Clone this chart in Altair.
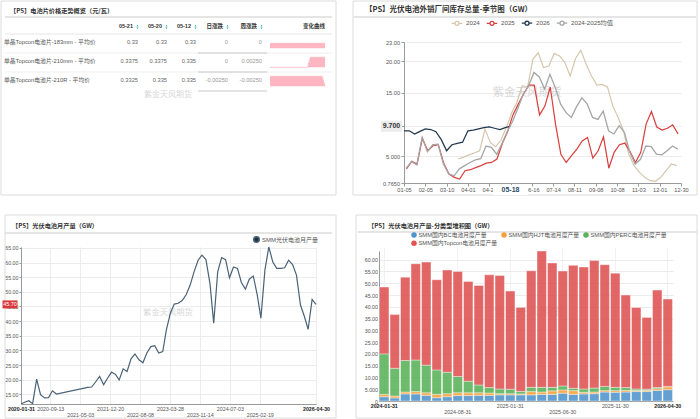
import altair as alt
import pandas as pd

FONT = "Liberation Sans, Noto Sans CJK SC, sans-serif"
CJK = "Noto Sans CJK SC, Liberation Sans, sans-serif"
WATERMARK = "紫金天风期货"
ONE = pd.DataFrame({"k": [0]})
DARK = "#333333"
MID = "#555555"
AXIS = "#9a9a9a"
GRID = "#ececec"

# ---------------------------------------------------------------- data
# cell price overview (元/瓦)
row_names = [
    "单晶Topcon电池片-183mm - 平均价",
    "单晶Topcon电池片-210mm - 平均价",
    "单晶Topcon电池片-210R - 平均价",
]
price_05_21 = [0.33, 0.3375, 0.3325]
price_05_20 = [0.33, 0.3375, 0.335]
price_05_12 = [0.33, 0.335, 0.335]
day_change = [0, 0, -0.0025]
week_change = [0, 0.0025, -0.0025]
spark_183 = [0.33, 0.33, 0.33, 0.33, 0.33, 0.33, 0.33, 0.33, 0.33, 0.33,
             0.33, 0.33, 0.33, 0.33, 0.33, 0.33, 0.33, 0.33, 0.33, 0.33]
spark_210 = [0.335, 0.335, 0.335, 0.335, 0.335, 0.335, 0.335, 0.335, 0.335, 0.335,
             0.335, 0.335, 0.335, 0.335, 0.3375, 0.3375, 0.3375, 0.3375, 0.3375, 0.3375]
spark_210r = [0.335, 0.335, 0.335, 0.335, 0.335, 0.335, 0.335, 0.335, 0.335, 0.335,
              0.335, 0.335, 0.335, 0.335, 0.335, 0.335, 0.335, 0.335, 0.335, 0.3325]

# cell inventory, seasonal (GW), one value per week of the year
week_labels = ["01-05", "02-05", "03-10", "04-01", "04-20", "05-18", "06-16",
               "07-14", "08-11", "09-08", "10-08", "11-03", "12-01", "12-30"]
season_names = ["2024", "2025", "2026", "2024-2025均值"]
# each year's weekly observations fall on a slightly different day of the week
season_day_shift = {"2024": 0.2, "2025": 0.45, "2026": 0.0, "2024-2025均值": 0.4}
inv_2024 = [None, None, None, None, None, None, None, None, None, None,
            4.54, 4.85, 5.2, 5.5, 5.85, 9.26, 7.16, 6.5, 7.5, 9.5,
            11.8, 13.5, 16.1, 15.9, 20.3, 21.3, 18.96, 19.2, 21.2, 20.8,
            19.75, 17.65, 20.4, 21.7, 19.5, 17.65, 16.2, 16.3, 15.9, 12.9,
            11.1, 9.0, 5.3, 3.5, 2.44, 1.66, 1.13, 1.03, 1.66, 2.7,
            3.76, 3.5]
inv_2025 = [2.97, 4.17, 3.76, 7.8, 5.85, 6.64, 6.8, 3.86, 2.18, 1.66,
            1.4, 2.7, 2.86, 3.2, 3.5, 3.9, 4.0, 4.54, 7.0, 8.9,
            11.5, 13.2, 14.8, 16.2, 16.2, 11.5, 12.9, 15.9, 10.0, 5.3,
            4.0, 5.07, 6.1, 7.4, 7.95, 4.7, 5.85, 8.05, 3.1, 5.6,
            6.8, 7.06, 5.7, 4.0, 5.6, 10.05, 12.04, 9.6, 9.1, 9.4,
            9.94, 8.5]
inv_2026 = [9.0, 9.0, 8.5, 8.9, 9.3, 9.2, 8.85, 7.6, 5.85, 6.8,
            7.0, 7.2, 9.0, 9.1, 9.3, 9.5, 9.6, 9.4, 9.2, 9.5,
            9.7]
inv_mean = [3.07, 4.17, 3.6, 7.95, 5.7, 6.8, 6.9, 3.75, 2.2, 1.9,
            3.0, 3.5, 4.0, 4.4, 4.6, 6.6, 6.4, 5.3, 7.0, 8.9,
            10.5, 12.6, 14.8, 16.1, 18.2, 17.5, 15.6, 17.9, 15.8, 13.2,
            11.9, 11.1, 12.8, 14.2, 13.2, 11.1, 10.8, 12.1, 9.0, 8.5,
            9.8, 8.7, 5.6, 3.75, 4.5, 6.6, 6.5, 5.3, 5.2, 5.85,
            6.6, 6.1]

# monthly cell output (GW), 2020-01 .. 2026-04
output_name = "SMM光伏电池月产量"
output_monthly = [
    11.7, 12.3, 12.8, 11.8, 20.2, 14.9, 13.8, 13.9, 16.2, 15.1, None, None,
    None, None, None, None, None, 17.4, 17.5, 19.3, 21.1, 18.3, 20.5, 22.6,
    21.8, 19.9, 23.7, 22.8, 27.1, 28.8, 26.8, 25.8, 29.1, 31.3, 31.6, 29.1,
    29.6, 37.0, 42.7, 45.8, 46.1, 47.0, 49.0, 52.3, 56.8, 60.8, 62.5, 61.0,
    52.9, 39.3, 56.8, 61.7, 61.0, 54.8, 58.5, 58.0, 53.2, 50.9, 54.3, 55.4,
    48.9, 41.0, 57.4, 65.3, 60.2, 58.0, 58.0, 58.2, 60.8, 59.3, 55.7, 45.5,
    41.5, 37.2, 47.4, 45.7,
]
output_ticks = ["2020-01-31", "2020-09-13", "2021-05-03", "2021-12-20", "2022-08-08",
                "2023-03-28", "2023-11-14", "2024-07-03", "2025-02-19", "2026-04-30"]

# monthly output by cell type (GW), 2024-01 .. 2026-04
type_names = ["SMM国内BC电池月度产量", "SMM国内HJT电池月度产量",
              "SMM国内PERC电池月度产量", "SMM国内Topcon电池月度产量"]
type_colors = ["#4f93cc", "#f7a13c", "#59b35a", "#e05253"]
out_bc = [1.8, 1.3, 3.0, 3.0, 2.4, 1.4, 1.8, 2.3, 2.3, 2.4, 2.4, 2.6, 2.6, 2.6,
          2.6, 2.8, 2.8, 3.3, 2.8, 3.0, 3.1, 3.8, 3.7, 3.8, 4.0, 4.0, 4.5, 4.8]
out_hjt = [1.0, 0.8, 0.8, 1.0, 1.1, 1.4, 1.3, 1.2, 1.2, 1.1, 1.0, 0.5, 0.5, 0.4,
           1.4, 1.0, 1.5, 1.4, 1.6, 0.7, 0.7, 0.6, 0.7, 0.7, 0.5, 0.5, 0.7, 1.2]
out_perc = [17.2, 11.8, 13.4, 13.4, 11.7, 10.4, 9.1, 6.9, 4.9, 3.3, 2.3, 2.0, 1.9, 1.1,
            1.8, 2.0, 1.5, 1.7, 1.0, 1.4, 1.7, 1.8, 1.4, 1.2, 0.6, 0.5, 0.5, 0.2]
out_topcon = [28.4, 22.8, 35.4, 40.9, 43.8, 38.3, 43.4, 44.6, 42.4, 42.3, 47.9, 48.2, 41.7, 35.6,
              49.5, 57.9, 52.8, 48.8, 52.2, 51.8, 54.2, 51.7, 48.5, 39.3, 34.6, 30.5, 41.4, 37.1]


# ---------------------------------------------------------------- helpers
def rect(ox, oy, x0, y0, x1, y1, **mark):
    return alt.Chart(ONE).mark_rect(**mark).encode(
        x=alt.value(x0 - ox), x2=alt.value(x1 - ox),
        y=alt.value(y0 - oy), y2=alt.value(y1 - oy))


def hrule(ox, oy, x0, x1, y, color, width=1.0):
    return alt.Chart(ONE).mark_rule(color=color, strokeWidth=width).encode(
        x=alt.value(x0 - ox), x2=alt.value(x1 - ox), y=alt.value(y - oy))


def note(ox, oy, x, y, text, **mark):
    mark.setdefault("font", FONT)
    mark.setdefault("baseline", "middle")
    return alt.Chart(ONE).mark_text(text=text, **mark).encode(
        x=alt.value(x - ox), y=alt.value(y - oy))


def chrome(ox, oy, cell, frame, title, title_at, title_size, rule, mark_at, mark_size):
    """Invisible layout cell, panel border, title, title rule and watermark."""
    return [
        rect(ox, oy, *cell, opacity=0, strokeWidth=0),
        rect(ox, oy, *frame, fillOpacity=0, stroke="#dcdcdc", strokeWidth=1),
        note(ox, oy, title_at[0], title_at[1], title, align="left", fontSize=title_size,
             fontWeight="bold", font=CJK, color=DARK),
        hrule(ox, oy, rule[0], rule[1], rule[2], "#dddddd", 1.5),
        note(ox, oy, mark_at[0], mark_at[1], WATERMARK, align="center", fontSize=mark_size,
             font=CJK, color="#c4c4c4", opacity=0.65),
    ]


def box_shape(w, h):
    """Symbol path for a w x h rectangle; use with size = w * w."""
    return f"M-1,{-h / w:.4f}H1V{h / w:.4f}H-1Z"


def bold_if(test):
    return {"condition": {"test": test, "value": "bold"}, "value": "normal"}


def color_if(test, on, off):
    return {"condition": {"test": test, "value": on}, "value": off}


# ---------------------------------------------------------------- panel 1: price table
OX1, OY1 = 21, 42
col_right = {"05-21": 138, "05-20": 167, "05-12": 196, "日涨跌": 228, "周涨跌": 262}
row_y = alt.Y("name:N", axis=None,
              scale=alt.Scale(domain=row_names, range=[42.3 - OY1, 80.3 - OY1], padding=0))

p1 = chrome(OX1, OY1, (0, 0, 350, 207), (1, 1, 336, 195),
            "【PS】电池片价格走势概览（元/瓦）", (10, 11), 6.2, (5, 332, 17), (168, 95), 8)

# header row and row separators
p1.append(hrule(OX1, OY1, 5, 332, 34, "#e6e6e6", 1))
for yy in (53, 72):
    p1.append(hrule(OX1, OY1, 5, 332, yy, "#efefef", 1))
for yy in (53, 72, 91):
    p1.append(hrule(OX1, OY1, 198, 267, yy, "#c9c9c9", 1))

columns = [("05-21", price_05_21, False), ("05-20", price_05_20, False),
           ("05-12", price_05_12, False), ("日涨跌", day_change, True),
           ("周涨跌", week_change, True)]
for col, vals, is_change in columns:
    xr = col_right[col]
    p1.append(note(OX1, OY1, xr - 5, 26, col, align="right", fontSize=5.5,
                   fontWeight="bold", color=DARK))
    p1.append(alt.Chart(ONE).mark_point(shape="triangle-up", filled=True, size=4,
                                        color="#21b0a0", opacity=1).encode(
        x=alt.value(xr - 0.5 - OX1), y=alt.value(25.7 - OY1)))
    p1.append(alt.Chart(ONE).mark_point(shape="triangle-down", filled=True, size=4,
                                        color="#21b0a0", opacity=1).encode(
        x=alt.value(xr - 0.5 - OX1), y=alt.value(28.3 - OY1)))
    if is_change:
        txt = ["0" if v == 0 else f"{v:.5f}" for v in vals]
    else:
        txt = [f"{v:g}" for v in vals]
    cdf = pd.DataFrame({"name": row_names, "txt": txt})
    p1.append(alt.Chart(cdf).mark_text(align="right", baseline="middle", fontSize=5.7, font=FONT,
                                       color="#999999" if is_change else "#666666").encode(
        x=alt.value(xr - OX1), y=row_y, text="txt:N"))
p1.append(note(OX1, OY1, 325, 26, "变化曲线", align="right", fontSize=5.5,
               fontWeight="bold", color=DARK))

names_df = pd.DataFrame({"name": row_names})
p1.append(alt.Chart(names_df).mark_text(align="left", baseline="middle", fontSize=5.8,
                                        font=FONT, color=MID).encode(
    x=alt.value(4 - OX1), y=row_y, text="name:N"))

# sparklines: each row normalised to its own range, drawn over a 10px band
spark_rows = []
for r, (name, series) in enumerate(zip(row_names, [spark_183, spark_210, spark_210r])):
    lo, hi = min(series), max(series)
    for t, v in enumerate(series):
        frac = 0.5 if hi == lo else (v - lo) / (hi - lo)
        spark_rows.append({"name": name, "t": t, "top": r - frac * 10 / 19, "base": r})
spark_df = pd.DataFrame(spark_rows)
spark_x = alt.X("t:Q", axis=None,
                scale=alt.Scale(domain=[0, len(spark_183) - 1], range=[270 - OX1, 325 - OX1]))
spark_y = alt.Y("top:Q", axis=None,
                scale=alt.Scale(domain=[0, 2], range=[48.3 - OY1, 86.3 - OY1], nice=False, zero=False))
p1.append(alt.Chart(spark_df).mark_area(color="#ffb6c1", opacity=1).encode(
    x=spark_x, y=spark_y, y2="base:Q", detail="name:N"))
p1.append(alt.Chart(spark_df).mark_line(color="#ffb6c1", strokeWidth=0.8).encode(
    x=spark_x, y=spark_y, detail="name:N"))

panel1 = alt.layer(*p1).resolve_scale(x="independent", y="independent").properties(
    width=300, height=120)

# ---------------------------------------------------------------- panel 2: seasonal inventory
OX2, OY2, W2, H2 = 404, 42, 277, 141
season_rows = []
for name, vals in zip(season_names, [inv_2024, inv_2025, inv_2026, inv_mean]):
    for w, v in enumerate(vals):
        if v is not None:
            season_rows.append({"week": w + season_day_shift[name], "value": v, "series": name})
season_df = pd.DataFrame(season_rows)
cur_week = len(inv_2026) - 1
cur_value = inv_2026[-1]
tick_weeks = [4 * i for i in range(len(week_labels))]
label_arr = "[" + ",".join(
    "''" if w == cur_week else f"'{lab}'" for w, lab in zip(tick_weeks, week_labels)) + "]"
cur_label = week_labels[tick_weeks.index(cur_week)]

legend_path = ("M-1,0H-0.38M0.38,0H1M0.38,0A0.38,0.38,0,1,1,-0.38,0"
               "A0.38,0.38,0,1,1,0.38,0Z")
y_lo, y_hi = 0.765, 23
week_scale = alt.Scale(domain=[0, tick_weeks[-1]], nice=False, zero=False)
inv_scale = alt.Scale(domain=[y_lo, y_hi], nice=False, zero=False)

p2 = chrome(OX2, OY2, (350, 0, 700, 207), (353, 1, 697, 195),
            "【PS】光伏电池外销厂间库存总量-季节图（GW）", (365, 10), 7.5, (354, 696, 17), (527, 93), 11.5)
p2.append(alt.Chart(season_df).mark_line().encode(
    x=alt.X("week:Q", title=None, scale=week_scale,
            axis=alt.Axis(values=tick_weeks, labelExpr=f"{label_arr}[round(datum.value / 4)]",
                          grid=False, domainColor=AXIS, tickColor=AXIS, tickSize=3,
                          labelFontSize=5.6, labelColor=MID, labelPadding=1.5,
                          labelFlush=False, labelOverlap=False)),
    y=alt.Y("value:Q", title=None, scale=inv_scale,
            axis=alt.Axis(values=[y_lo, 5, cur_value, 15, 20, y_hi],
                          labelExpr=f"datum.value == {cur_value} ? '' : format(datum.value, '.4r')",
                          gridColor=GRID, domainColor=AXIS, tickColor=AXIS, tickSize=3,
                          labelFontSize=5.6, labelColor=MID, labelPadding=1.5,
                          labelOverlap=False)),
    color=alt.Color("series:N",
                    scale=alt.Scale(domain=season_names,
                                    range=["#d6c6ad", "#d9403f", "#22394d", "#a6a6a6"]),
                    legend=alt.Legend(title=None, orient="none", legendX=47, legendY=-25,
                                      direction="horizontal", symbolType=legend_path,
                                      symbolSize=110, symbolStrokeWidth=1,
                                      symbolFillColor="#ffffff", labelFontSize=6.2,
                                      labelColor=MID, labelOffset=3, columnPadding=4,
                                      padding=0)),
    strokeWidth=alt.StrokeWidth("series:N", legend=None,
                                scale=alt.Scale(domain=season_names, range=[1.2, 1.3, 2.4, 0.9])),
))
# latest value tag on the y axis and current week tag on the x axis
cur_y = alt.Y(datum=cur_value, scale=inv_scale, axis=None)
cur_x = alt.X(datum=cur_week, scale=week_scale, axis=None)
p2.append(alt.Chart(ONE).mark_point(shape=box_shape(21, 11), size=21 * 21, filled=True,
                                    color="#ececec", opacity=1).encode(
    x=alt.value(391.5 - OX2), y=cur_y))
p2.append(alt.Chart(ONE).mark_text(text=f"{cur_value:.3f}", fontWeight="bold", fontSize=7,
                                   font=FONT, color=DARK).encode(
    x=alt.value(391.5 - OX2), y=cur_y))
p2.append(alt.Chart(ONE).mark_point(shape=box_shape(35, 10), size=35 * 35, filled=True,
                                    color="#ffffff", opacity=1).encode(
    x=cur_x, y=alt.value(H2 + 7)))
p2.append(alt.Chart(ONE).mark_text(text=cur_label, fontWeight="bold", fontSize=7,
                                   font=FONT, color="#2b4a66").encode(
    x=cur_x, y=alt.value(H2 + 7)))
panel2 = alt.layer(*p2).resolve_scale(x="independent", y="independent").properties(
    width=W2, height=H2)

# ---------------------------------------------------------------- panel 3: monthly output
OX3, OY3, W3, H3 = 21, 247, 295, 157
out_dates = pd.date_range("2020-01-31", periods=len(output_monthly), freq=pd.offsets.MonthEnd())
out_df = pd.DataFrame({"date": out_dates, "value": output_monthly, "series": output_name}).dropna()
out_lo, out_hi = out_df["value"].min(), out_df["value"].max()
out_last = output_monthly[-1]
out_scale = alt.Scale(domain=[out_lo, out_hi], nice=False, zero=False)


def dt(s):
    y, m, d = (int(p) for p in s.split("-"))
    return alt.DateTime(year=y, month=m, date=d)


fmt_date = "timeFormat(datum.value, '%Y-%m-%d')"
lower_dates = "[" + ",".join(f"'{d}'" for d in output_ticks[2:-1:2]) + "]"
edge_test = f"{fmt_date} == '{output_ticks[0]}' || {fmt_date} == '{output_ticks[-1]}'"

p3 = chrome(OX3, OY3, (0, 207, 350, 419), (5, 215, 336, 418),
            "【PS】光伏电池月产量（GW）", (12, 226), 6.2, (5, 332, 233), (168, 313), 8.3)
p3.append(alt.Chart(out_df).mark_line(strokeWidth=1.2).encode(
    x=alt.X("date:T", title=None,
            scale=alt.Scale(domain=[dt(output_ticks[0]), dt(output_ticks[-1])]),
            axis=alt.Axis(values=[dt(s) for s in output_ticks],
                          labelExpr=f"indexof({lower_dates}, {fmt_date}) >= 0 ? ['', {fmt_date}] : {fmt_date}",
                          labelFontWeight=bold_if(edge_test),
                          labelColor=color_if(edge_test, "#222222", MID),
                          gridColor=GRID, domainColor=AXIS, ticks=False,
                          labelFontSize=5.3, labelPadding=2.5, labelLineHeight=6,
                          labelFlush=False, labelOverlap=False)),
    y=alt.Y("value:Q", title=None, scale=out_scale,
            axis=alt.Axis(values=list(range(15, 70, 5)), format=".4r",
                          gridColor=GRID, domainColor=AXIS, tickColor=AXIS, tickSize=2,
                          labelFontSize=5.3, labelColor=MID, labelPadding=1,
                          labelOverlap=False)),
    color=alt.Color("series:N", scale=alt.Scale(domain=[output_name], range=["#4a6276"]),
                    legend=alt.Legend(title=None, orient="none", legendX=232, legendY=-11,
                                      symbolType="circle", symbolSize=30,
                                      symbolFillColor="#1f3346", symbolStrokeColor="#1f3346",
                                      labelFontSize=6, labelColor=MID, labelOffset=2,
                                      padding=0)),
))
last_y = alt.Y(datum=out_last, scale=out_scale, axis=None)
p3.append(alt.Chart(ONE).mark_point(shape=box_shape(15, 8), size=15 * 15, filled=True,
                                    color="#d8383a", opacity=1).encode(
    x=alt.value(10 - OX3), y=last_y))
p3.append(alt.Chart(ONE).mark_text(text=f"{out_last:.2f}", fontSize=5.5, font=FONT,
                                   color="#ffffff").encode(
    x=alt.value(10 - OX3), y=last_y))
panel3 = alt.layer(*p3).resolve_scale(x="independent", y="independent").properties(
    width=W3, height=H3)

# ---------------------------------------------------------------- panel 4: output by type
OX4, OY4, W4, H4 = 379, 247, 294, 154
br_months = [d.strftime("%Y-%m-%d") for d in
             pd.date_range("2024-01-31", periods=len(out_bc), freq=pd.offsets.MonthEnd())]
type_rows = []
for k, (name, vals) in enumerate(zip(type_names, [out_bc, out_hjt, out_perc, out_topcon])):
    for m, v in zip(br_months, vals):
        type_rows.append({"month": m, "type": name, "value": v, "k": k})
type_df = pd.DataFrame(type_rows)
br_max = type_df.groupby("month")["value"].sum().max()
br_ticks = [br_months[i] for i in (0, 7, 12, 17, 22, 27)]
br_lower = "[" + ",".join(f"'{m}'" for m in (br_ticks[1], br_ticks[3])) + "]"
br_edge = f"datum.value == '{br_ticks[0]}' || datum.value == '{br_ticks[-1]}'"

p4 = chrome(OX4, OY4, (350, 207, 700, 419), (356, 215, 697, 418),
            "【PS】光伏电池月产量-分类型堆积图（GW）", (368, 226), 6.2, (358, 697, 232), (528, 313), 11.5)
p4.append(alt.Chart(type_df).mark_bar(opacity=0.88, stroke="#ffffff", strokeWidth=0.4).encode(
    x=alt.X("month:N", title=None,
            scale=alt.Scale(domain=br_months, paddingInner=0.1, paddingOuter=0.05),
            axis=alt.Axis(values=br_ticks,
                          labelExpr=f"indexof({br_lower}, datum.value) >= 0 ? ['', datum.value] : datum.value",
                          labelFontWeight=bold_if(br_edge),
                          labelColor=color_if(br_edge, "#222222", MID),
                          labelAngle=0, gridColor="#f1f1f1", grid=True, domainColor=AXIS,
                          ticks=False, labelFontSize=5.3, labelPadding=2, labelLineHeight=6,
                          labelOverlap=False)),
    y=alt.Y("value:Q", title=None, stack="zero",
            scale=alt.Scale(domain=[0, br_max], range=[H4, 4], nice=False),
            axis=alt.Axis(values=list(range(0, 65, 5)), format=".4r",
                          gridColor=GRID, domainColor=AXIS, ticks=False,
                          labelFontSize=5.3, labelColor=MID, labelPadding=1.5,
                          labelOverlap=False)),
    color=alt.Color("type:N", scale=alt.Scale(domain=type_names, range=type_colors), legend=None),
    order=alt.Order("k:Q", sort="ascending"),
))
# legend: three entries on the first row, Topcon on the second
legend_at = [(414, 235), (504, 235), (586, 235), (414, 243.3)]
for name, swatch, (lx, ly) in zip(type_names, type_colors, legend_at):
    p4.append(alt.Chart(ONE).mark_point(shape="circle", filled=True, size=30, opacity=1,
                                        color=swatch).encode(
        x=alt.value(lx - OX4), y=alt.value(ly - OY4)))
    p4.append(note(OX4, OY4, lx + 4.5, ly, name, align="left", fontSize=5.8, color=MID))
panel4 = alt.layer(*p4).properties(width=W4, height=H4)

chart = alt.vconcat(
    alt.hconcat(panel1, panel2, spacing=0).resolve_scale(
        color="independent", strokeWidth="independent"),
    alt.hconcat(panel3, panel4, spacing=0).resolve_scale(
        color="independent", strokeWidth="independent"),
    spacing=0,
).resolve_scale(
    color="independent", strokeWidth="independent"
).properties(padding=0, background="#ffffff").configure_view(stroke=None).configure_axis(
    labelFont=FONT, labelOverlap=False).configure_legend(labelFont=FONT)

chart.save("out.html", embed_options={"renderer": "svg", "actions": False})
